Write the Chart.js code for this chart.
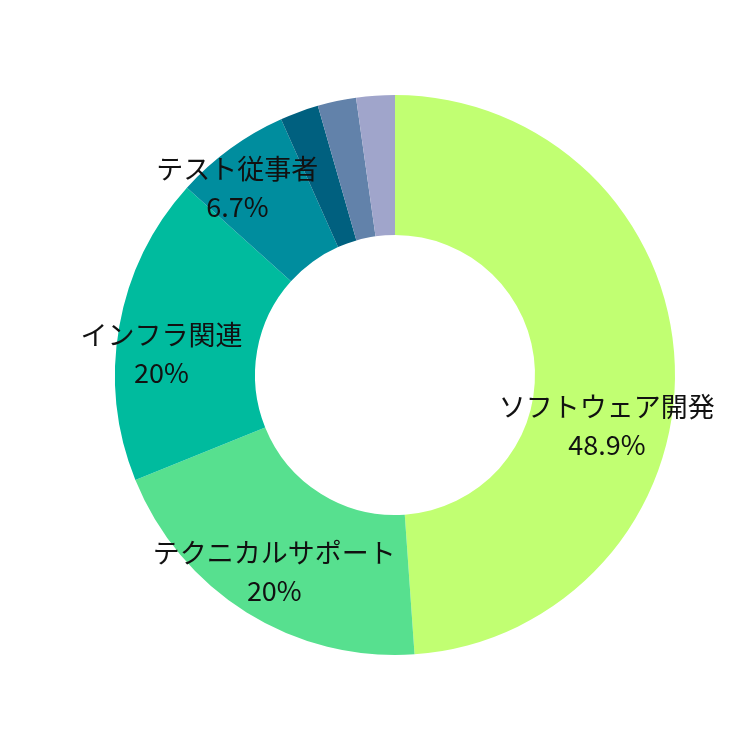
<!DOCTYPE html>
<html>
<head>
<meta charset="utf-8">
<script src="https://cdn.jsdelivr.net/npm/chart.js@4/dist/chart.umd.min.js"></script>
<style>
  html, body { margin: 0; padding: 0; background: #fff; }
  #wrap { width: 750px; height: 750px; }
</style>
</head>
<body>
<div id="wrap"><canvas id="chart" width="750" height="750"></canvas></div>
<script>
/* 職種別の内訳 */
const categories = ['ソフトウェア開発', 'テクニカルサポート', 'インフラ関連', 'テスト従事者', 'その他A', 'その他B', 'その他C'];
const counts = [22, 9, 8, 3, 1, 1, 1];
const pctLabels = ['48.9%', '20%', '20%', '6.7%', '', '', ''];
const sliceColors = ['#c1ff72', '#57e08f', '#00bb9e', '#008d9e', '#00607f', '#6282aa', '#a0a5cb'];

const FONT = '"Noto Sans CJK JP", "Noto Sans", sans-serif';

// labels drawn inside the slices, two lines: name + percent
const sliceLabels = {
  id: 'sliceLabels',
  afterDatasetsDraw(chart, args, opts) {
    const { ctx } = chart;
    const meta = chart.getDatasetMeta(0);
    ctx.save();
    ctx.fillStyle = opts.color;
    ctx.font = `${opts.size}px ${FONT}`;
    ctx.textAlign = 'center';
    ctx.textBaseline = 'middle';
    meta.data.forEach((arc, i) => {
      if (!pctLabels[i]) return;
      const { x, y, startAngle, endAngle, outerRadius } = arc.getProps(['x', 'y', 'startAngle', 'endAngle', 'outerRadius'], true);
      const mid = (startAngle + endAngle) / 2;
      const r = outerRadius * opts.radial;
      const nudge = opts.nudge[i] || [0, 0];
      const cx = x + Math.cos(mid) * r + nudge[0];
      const cy = y + Math.sin(mid) * r + nudge[1];
      ctx.fillText(categories[i], cx, cy - opts.lineGap / 2);
      ctx.fillText(pctLabels[i], cx, cy + opts.lineGap / 2);
    });
    ctx.restore();
  }
};

new Chart(document.getElementById('chart'), {
  type: 'doughnut',
  data: {
    labels: categories,
    datasets: [{
      data: counts,
      backgroundColor: sliceColors,
      borderWidth: 0,
    }]
  },
  options: {
    responsive: false,
    animation: false,
    cutout: '50%',
    layout: { padding: { left: 115, right: 75, top: 95, bottom: 95 } },
    plugins: {
      legend: { display: false },
      tooltip: { enabled: false },
      sliceLabels: {
        color: '#111', size: 27, lineGap: 38, radial: 0.8,
        nudge: [[-12, 59], [-2, 7], [-13, 18], [-26, -6]],
      },
    },
  },
  plugins: [sliceLabels],
});
</script>
</body>
</html>
